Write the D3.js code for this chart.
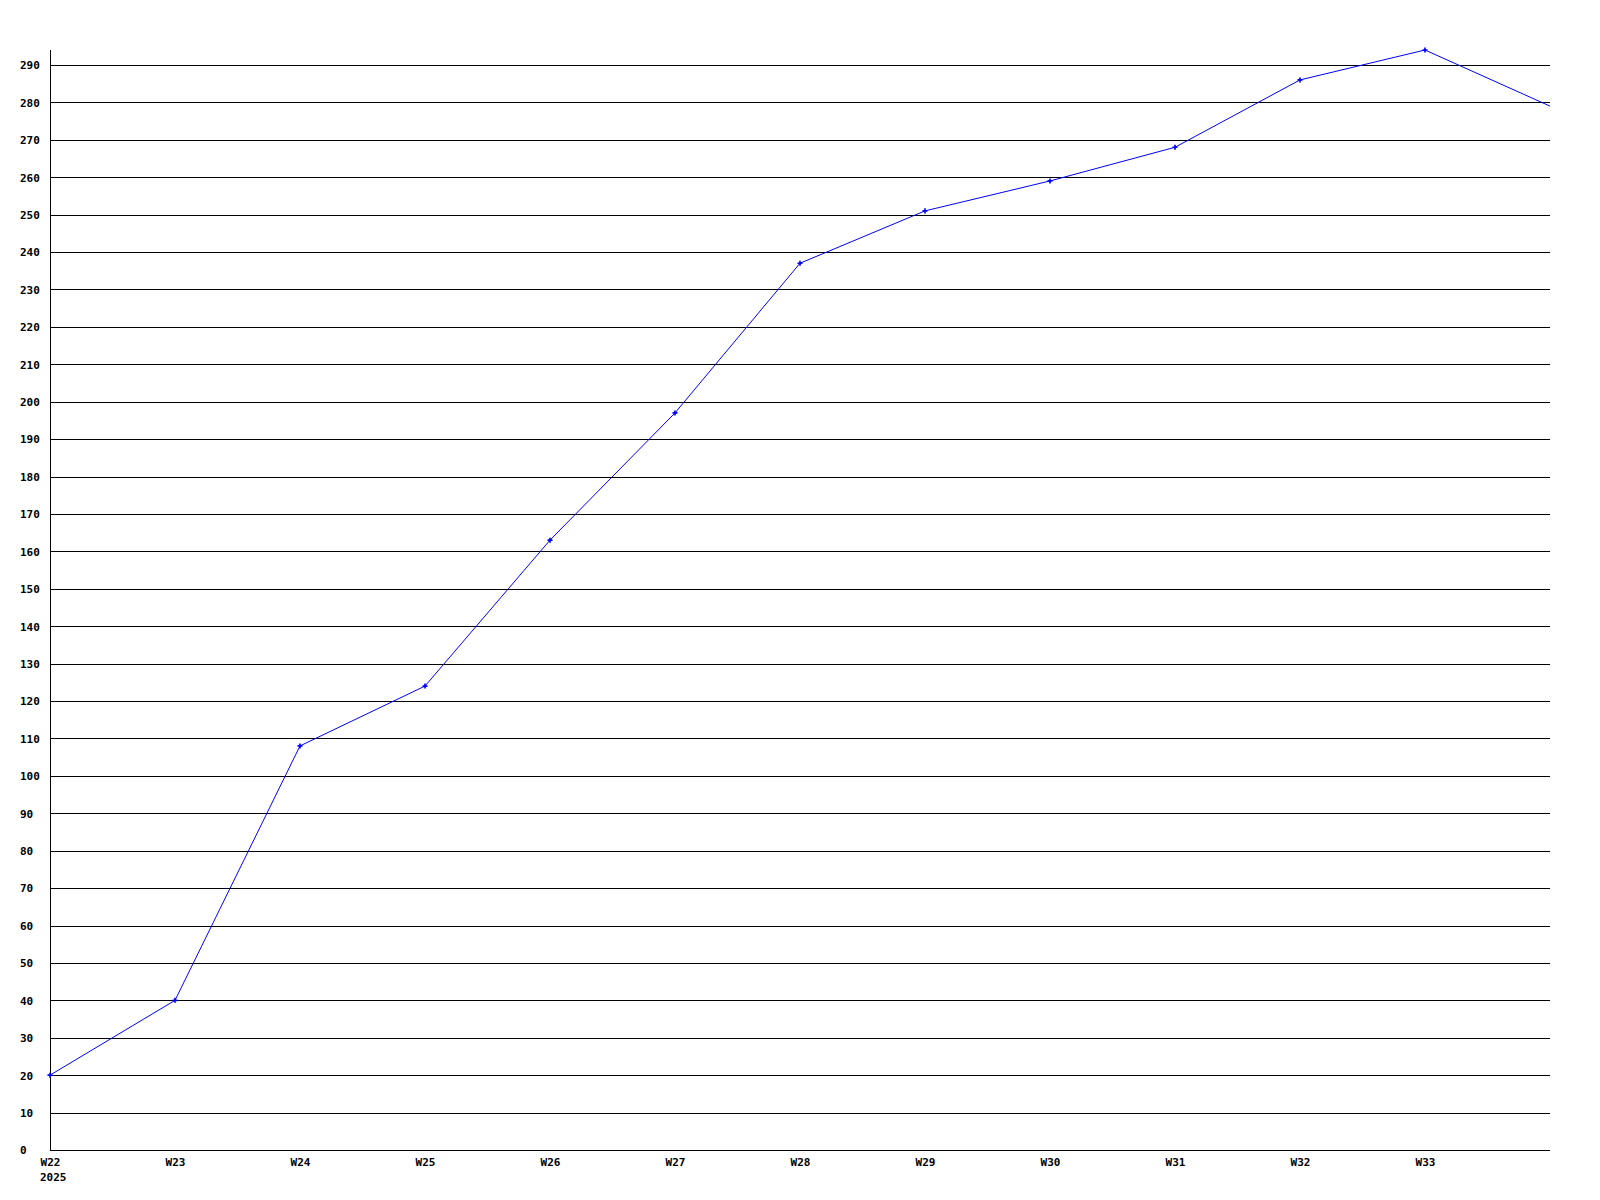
<!DOCTYPE html>
<html>
<head>
<meta charset="utf-8">
<script src="https://cdn.jsdelivr.net/npm/d3@7"></script>
<style>
  html, body { margin: 0; padding: 0; background: #fff; }
  svg text { font-family: "DejaVu Sans Mono", "Liberation Mono", monospace; font-weight: bold; font-size: 11px; fill: #000; }
</style>
</head>
<body>
<svg id="chart" width="1600" height="1200"></svg>
<script>
const weeks = ["W22","W23","W24","W25","W26","W27","W28","W29","W30","W31","W32","W33","W34"];
const values = [20, 40, 108, 124, 163, 197, 237, 251, 259, 268, 286, 294, 279];
const xTickLabels = ["W22","W23","W24","W25","W26","W27","W28","W29","W30","W31","W32","W33"];
const yearLabel = "2025";
const yTicks = d3.range(0, 300, 10);

const svg = d3.select("#chart");
const mLeft = 50, mRight = 1550, mTop = 50, mBottom = 1150;

const x = d3.scalePoint().domain(weeks).range([mLeft, mRight]);
const y = d3.scaleLinear().domain([0, d3.max(values)]).range([mBottom, mTop]);

// horizontal grid + y labels
const yAxis = svg.append("g")
  .attr("transform", `translate(${mLeft},0)`)
  .call(d3.axisLeft(y).tickValues(yTicks).tickSize(-(mRight - mLeft)).tickFormat(d3.format("d")));
yAxis.select(".domain").remove();
yAxis.selectAll(".tick line").attr("stroke", "#000").attr("stroke-width", 1).attr("shape-rendering", "crispEdges");
yAxis.selectAll(".tick text").attr("text-anchor", "start").attr("x", 20 - mLeft).attr("dy", "0.35em");

// y axis vertical line
svg.append("line")
  .attr("x1", mLeft).attr("x2", mLeft).attr("y1", mTop).attr("y2", mBottom)
  .attr("stroke", "#000").attr("stroke-width", 1).attr("shape-rendering", "crispEdges");

// x axis labels
const xAxis = svg.append("g")
  .attr("transform", `translate(0,${mBottom})`)
  .call(d3.axisBottom(x).tickValues(xTickLabels).tickSize(0).tickPadding(8));
xAxis.select(".domain").remove();
xAxis.selectAll(".tick text").attr("dy", "0.71em");

svg.append("text")
  .attr("x", x(weeks[0]) - 10)
  .attr("y", mBottom + 31)
  .attr("text-anchor", "start")
  .text(yearLabel);

// line
const line = d3.line().x((d, i) => x(weeks[i])).y(d => y(d));
svg.append("path")
  .datum(values)
  .attr("fill", "none")
  .attr("stroke", "#0000ff")
  .attr("stroke-width", 1)
  .attr("d", line);

// markers
svg.append("g").selectAll("path")
  .data(values.slice(0, values.length - 1))
  .join("path")
  .attr("transform", (d, i) => `translate(${x(weeks[i])},${y(d)})`)
  .attr("d", d3.symbol().type(d3.symbolCross).size(14))
  .attr("fill", "#0000ff");
</script>
</body>
</html>
